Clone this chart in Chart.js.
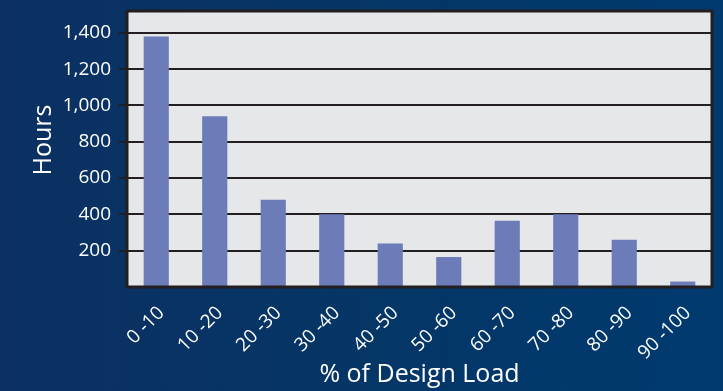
<!DOCTYPE html>
<html>
<head>
<meta charset="utf-8">
<script src="https://cdn.jsdelivr.net/npm/chart.js@4"></script>
<style>
  html, body { margin: 0; padding: 0; }
  body {
    width: 723px; height: 391px; overflow: hidden;
    background: linear-gradient(90deg, #0c3062 0%, #053666 50%, #003a6f 100%);
  }
</style>
</head>
<body>
<canvas id="chart" width="723" height="391"></canvas>
<script>
// % of design load buckets and hours spent in each
const categories = ['0 -10', '10 -20', '20 -30', '30 -40', '40 -50', '50 -60', '60 -70', '70 -80', '80 -90', '90 -100'];
const hours = [1380, 940, 480, 400, 240, 165, 365, 400, 260, 30];
const yTicks = [200, 400, 600, 800, 1000, 1200, 1400];
const yTitle = 'Hours';

const ink = '#231f20';
const fontFamily = '"Open Sans", "Noto Sans", sans-serif';

// grey plot background, heavy frame, and the y title (sits a bit above centre)
const plotFrame = {
    id: 'plotFrame',
    beforeDraw(chart) {
        const a = chart.chartArea;
        const c = chart.ctx;
        c.save();
        c.fillStyle = '#e6e7e8';
        c.fillRect(a.left, a.top, a.right - a.left, a.bottom - a.top);
        c.restore();
    },
    afterDraw(chart) {
        const a = chart.chartArea;
        const c = chart.ctx;
        c.save();
        c.strokeStyle = ink;
        c.lineWidth = 3;
        c.strokeRect(a.left, a.top, a.right - a.left, a.bottom - a.top);

        c.translate(44, 140);
        c.rotate(-Math.PI / 2);
        c.fillStyle = '#ffffff';
        c.font = '25px ' + fontFamily;
        c.textAlign = 'center';
        c.textBaseline = 'middle';
        c.fillText(yTitle, 0, 0);
        c.restore();
    }
};

new Chart(document.getElementById('chart'), {
    type: 'bar',
    data: {
        labels: categories,
        datasets: [{
            data: hours,
            backgroundColor: '#6c7cb9',
            barPercentage: 0.43,
            categoryPercentage: 1
        }]
    },
    options: {
        responsive: false,
        animation: false,
        layout: { padding: { top: 11, right: 11, left: 0, bottom: 0 } },
        plugins: { legend: { display: false }, tooltip: { enabled: false } },
        scales: {
            x: {
                grid: { display: false },
                border: { display: false },
                ticks: {
                    color: '#ffffff',
                    font: { family: fontFamily, size: 19 },
                    minRotation: 45,
                    maxRotation: 45,
                    padding: 7,
                    labelOffset: 5
                },
                title: {
                    display: true,
                    text: '% of Design Load',
                    color: '#ffffff',
                    font: { family: fontFamily, size: 25 },
                    padding: { top: 0, bottom: 1 }
                },
                afterFit(scale) {
                    scale.height = 104;
                    scale.paddingLeft = 0;
                    scale.paddingRight = 0;
                }
            },
            y: {
                min: 0,
                max: 1520,
                afterBuildTicks(scale) {
                    scale.ticks = yTicks.map(v => ({ value: v }));
                },
                grid: { color: ink, lineWidth: 2, tickLength: 8 },
                border: { display: false },
                ticks: {
                    color: '#ffffff',
                    font: { family: fontFamily, size: 19 },
                    padding: 8,
                    callback: v => v.toLocaleString('en-US')
                },
                afterFit(scale) {
                    scale.width = 127;
                    scale.paddingTop = 0;
                    scale.paddingBottom = 0;
                }
            }
        }
    },
    plugins: [plotFrame]
});
</script>
</body>
</html>
